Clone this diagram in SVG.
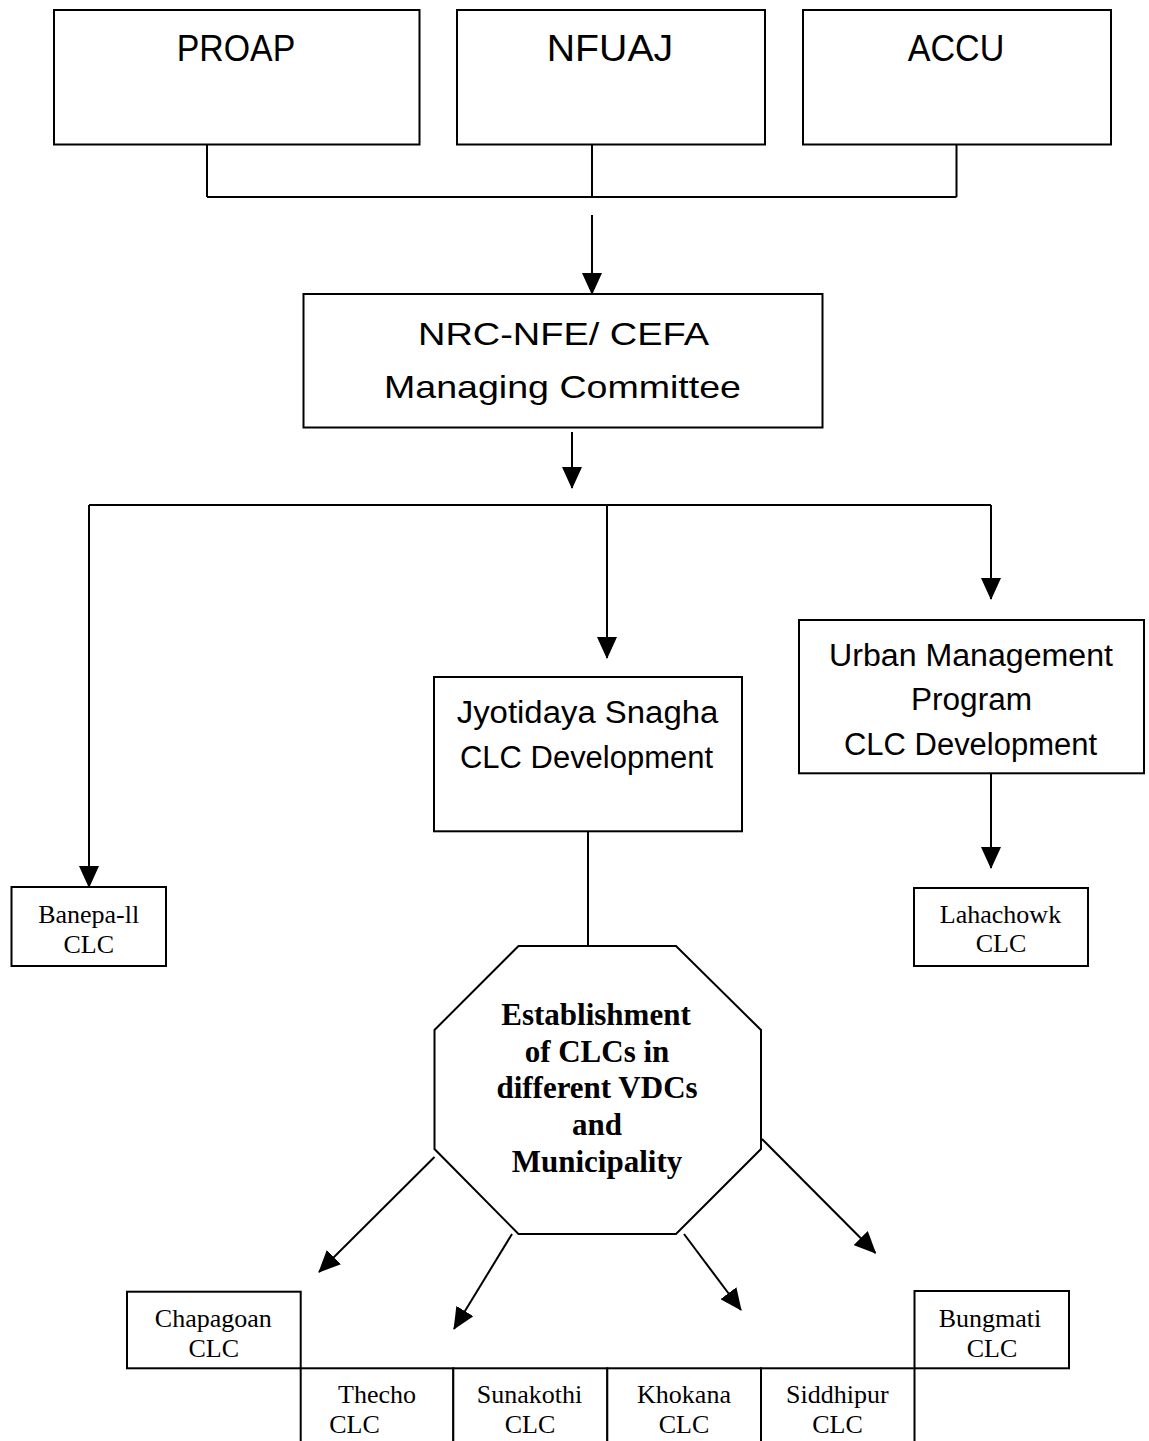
<svg xmlns="http://www.w3.org/2000/svg" width="1149" height="1441" viewBox="0 0 1149 1441">
<style>
.box{fill:#fff;stroke:#000;stroke-width:2}
.ln{fill:none;stroke:#000;stroke-width:2}
.sa{font-family:"Liberation Sans",Arial,sans-serif;fill:#000;text-anchor:middle}
.sr{font-family:"Liberation Serif","Times New Roman",serif;fill:#000;text-anchor:middle;font-size:26px}
.oc{font-family:"Liberation Serif","Times New Roman",serif;fill:#000;text-anchor:middle;font-size:31px;font-weight:bold}
</style>
<defs>
<marker id="ah" viewBox="0 0 22 20" refX="21" refY="10" markerWidth="22" markerHeight="20" markerUnits="userSpaceOnUse" orient="auto">
<path d="M0,0 L22,10 L0,20 Z" fill="#000"/>
</marker>
</defs>
<rect width="1149" height="1441" fill="#fff"/>
<g id="connectors">
<path class="ln" d="M207,138 V197 M592,138 V197 M956.5,138 V197 M207,197 H956.5"/>
<line class="ln" x1="592" y1="215" x2="592" y2="294" marker-end="url(#ah)"/>
<line class="ln" x1="572" y1="432" x2="572" y2="488" marker-end="url(#ah)"/>
<path class="ln" d="M89,505 H991"/>
<line class="ln" x1="89" y1="505" x2="89" y2="887" marker-end="url(#ah)"/>
<line class="ln" x1="607" y1="505" x2="607" y2="658" marker-end="url(#ah)"/>
<line class="ln" x1="991" y1="505" x2="991" y2="599" marker-end="url(#ah)"/>
<line class="ln" x1="991" y1="773" x2="991" y2="868" marker-end="url(#ah)"/>
<line class="ln" x1="588" y1="831" x2="588" y2="946"/>
<line class="ln" x1="434.5" y1="1157" x2="319" y2="1272" marker-end="url(#ah)"/>
<line class="ln" x1="512" y1="1234" x2="454" y2="1329" marker-end="url(#ah)"/>
<line class="ln" x1="684" y1="1234" x2="741" y2="1310" marker-end="url(#ah)"/>
<line class="ln" x1="762" y1="1139" x2="875.5" y2="1253" marker-end="url(#ah)"/>
</g>
<g id="proap"><rect class="box" x="54" y="10" width="365.5" height="134.5"/><text class="sa" x="236" y="61" font-size="37" textLength="118.6" lengthAdjust="spacingAndGlyphs">PROAP</text></g>
<g id="nfuaj"><rect class="box" x="457" y="10" width="308" height="134.5"/><text class="sa" x="610" y="61" font-size="37" textLength="126.5" lengthAdjust="spacingAndGlyphs">NFUAJ</text></g>
<g id="accu"><rect class="box" x="803" y="10" width="308" height="134.5"/><text class="sa" x="956" y="61" font-size="37" textLength="96.6" lengthAdjust="spacingAndGlyphs">ACCU</text></g>
<g id="nrc"><rect class="box" x="303.5" y="294" width="519" height="133.5"/>
<text class="sa" x="563.5" y="345" font-size="32" textLength="291" lengthAdjust="spacingAndGlyphs">NRC-NFE/ CEFA</text>
<text class="sa" x="562.5" y="398" font-size="32" textLength="357" lengthAdjust="spacingAndGlyphs">Managing Committee</text></g>
<g id="jyotidaya"><rect class="box" x="434" y="677" width="308" height="154.3"/>
<text class="sa" x="587.5" y="723" font-size="31" textLength="261.6" lengthAdjust="spacingAndGlyphs">Jyotidaya Snagha</text>
<text class="sa" x="586.5" y="768" font-size="31" textLength="253" lengthAdjust="spacingAndGlyphs">CLC Development</text></g>
<g id="urban"><rect class="box" x="799" y="620" width="345" height="153.3"/>
<text class="sa" x="971" y="666" font-size="31" textLength="284" lengthAdjust="spacingAndGlyphs">Urban Management</text>
<text class="sa" x="971.5" y="710" font-size="31" textLength="121" lengthAdjust="spacingAndGlyphs">Program</text>
<text class="sa" x="970.5" y="755" font-size="31" textLength="253" lengthAdjust="spacingAndGlyphs">CLC Development</text></g>
<g id="banepa"><rect class="box" x="11.5" y="887" width="154.5" height="79"/>
<text class="sr" x="88.7" y="923">Banepa-ll</text><text class="sr" x="88.7" y="953">CLC</text></g>
<g id="lahachowk"><rect class="box" x="914" y="888" width="174" height="78"/>
<text class="sr" x="1000.5" y="923">Lahachowk</text><text class="sr" x="1001" y="952">CLC</text></g>
<g id="establishment"><polygon class="box" points="518.5,946 676,946 761,1030 761,1149 676,1234 518.5,1234 434.5,1149 434.5,1030"/>
<text class="oc" x="596" y="1025">Establishment</text>
<text class="oc" x="597" y="1062">of CLCs in</text>
<text class="oc" x="597" y="1098">different VDCs</text>
<text class="oc" x="597" y="1135">and</text>
<text class="oc" x="597" y="1172">Municipality</text></g>
<g id="chapagoan"><rect class="box" x="127" y="1291.7" width="173.7" height="76.6"/>
<text class="sr" x="213.3" y="1327">Chapagoan</text><text class="sr" x="213.7" y="1357">CLC</text></g>
<g id="bungmati"><rect class="box" x="914.5" y="1291" width="154.5" height="77.3"/>
<text class="sr" x="990" y="1327">Bungmati</text><text class="sr" x="992" y="1357">CLC</text></g>
<g id="thecho"><rect class="box" x="300.7" y="1368.3" width="152.6" height="100"/>
<text class="sr" x="377" y="1403">Thecho</text><text class="sr" x="354.5" y="1433">CLC</text></g>
<g id="sunakothi"><rect class="box" x="453.3" y="1368.3" width="154" height="100"/>
<text class="sr" x="529.5" y="1403">Sunakothi</text><text class="sr" x="530" y="1433">CLC</text></g>
<g id="khokana"><rect class="box" x="607.3" y="1368.3" width="153.7" height="100"/>
<text class="sr" x="684" y="1403">Khokana</text><text class="sr" x="684" y="1433">CLC</text></g>
<g id="siddhipur"><rect class="box" x="761" y="1368.3" width="153.5" height="100"/>
<text class="sr" x="837.3" y="1403">Siddhipur</text><text class="sr" x="837.5" y="1433">CLC</text></g>
</svg>
